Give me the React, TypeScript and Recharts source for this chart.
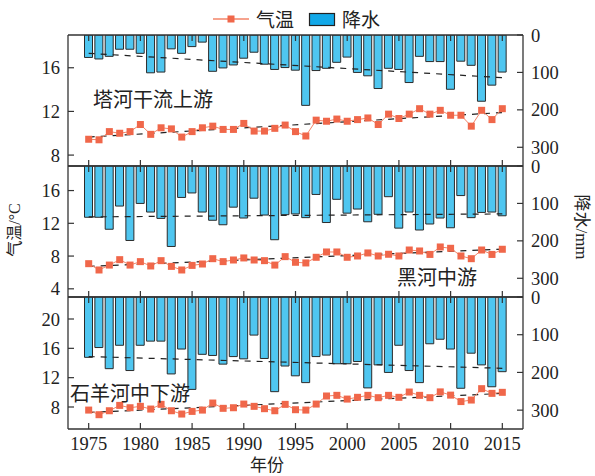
import { ComposedChart, Bar, Line, XAxis, YAxis, ReferenceLine } from 'recharts';

const years = [
  1975, 1976, 1977, 1978, 1979, 1980, 1981, 1982, 1983, 1984, 1985, 1986, 1987, 1988,
  1989, 1990, 1991, 1992, 1993, 1994, 1995, 1996, 1997, 1998, 1999, 2000, 2001, 2002,
  2003, 2004, 2005, 2006, 2007, 2008, 2009, 2010, 2011, 2012, 2013, 2014, 2015,
];
const yearTicks = [1975, 1980, 1985, 1990, 1995, 2000, 2005, 2010, 2015];
const trendYears = [1975, 2015];
const precipTicks = [0, 100, 200, 300];

// 塔河干流上游
const tempUpper = [
  9.45, 9.4, 10.15, 10.0, 10.15, 10.8, 9.9, 10.5, 10.4, 9.65, 10.15, 10.5, 10.65, 10.35,
  10.35, 10.9, 10.2, 10.2, 10.45, 10.75, 10.15, 9.75, 11.2, 11.1, 11.3, 11.1, 11.25, 11.4,
  10.8, 11.75, 11.35, 11.75, 12.25, 11.75, 12.1, 11.65, 11.65, 10.65, 12.1, 11.25, 12.25,
];
const precipUpper = [
  60, 64, 57, 38, 38, 49, 101, 99, 37, 49, 31, 19, 97, 88, 80, 62, 46, 78, 92, 87, 94,
  188, 95, 89, 73, 59, 100, 109, 143, 89, 92, 127, 57, 71, 71, 145, 70, 81, 177, 134, 99,
];
const tempTrendUpper = [9.65, 11.9];
const precipTrendUpper = [49, 114];

// 黑河中游
const tempMid = [
  7.07, 6.3, 6.9, 7.56, 6.9, 7.32, 6.79, 7.44, 6.74, 6.3, 6.86, 7.03, 7.68, 7.32, 7.52,
  7.77, 7.52, 7.44, 6.9, 7.93, 7.24, 7.16, 7.85, 8.5, 8.5, 7.85, 8.01, 8.38, 8.01, 8.22,
  8.01, 8.74, 8.62, 8.2, 9.11, 8.95, 8.01, 7.68, 8.74, 8.2, 8.83,
];
const precipMid = [
  137, 137, 169, 107, 199, 100, 123, 140, 215, 84, 72, 123, 145, 157, 110, 139, 86, 131,
  197, 130, 128, 138, 76, 151, 89, 126, 115, 149, 129, 82, 166, 123, 171, 155, 139, 165,
  79, 138, 124, 123, 133,
];
const tempTrendMid = [6.75, 8.85];
const precipTrendMid = [136, 128];

// 石羊河中下游
const tempLower = [
  7.58, 6.95, 7.49, 8.22, 7.9, 8.09, 7.72, 8.36, 7.49, 7.04, 7.4, 7.58, 8.54, 7.82, 7.9,
  8.4, 8.09, 7.77, 7.49, 8.36, 7.63, 7.58, 8.4, 9.5, 9.59, 9.08, 9.32, 9.59, 9.27, 9.59,
  9.32, 10.04, 9.59, 9.27, 10.06, 9.62, 8.74, 8.95, 10.5, 9.86, 10.0,
];
const precipLower = [
  160, 134, 190, 128, 195, 128, 117, 117, 204, 138, 245, 152, 155, 178, 158, 164, 101, 163,
  251, 183, 209, 227, 158, 154, 177, 177, 171, 241, 180, 200, 128, 195, 227, 124, 112, 138,
  242, 149, 180, 238, 198,
];
const tempTrendLower = [7.25, 9.85];
const precipTrendLower = [158, 189];

const FONT = "'Liberation Serif', 'Noto Sans CJK SC', serif";
const CJK = "'Noto Sans CJK SC', sans-serif";
const AXIS = '#333';
const TEMP_COLOR = '#f0674a';
const BAR_FILL = '#4fc6f0';

const tickStyle = { fill: '#222', fontSize: 18.5, fontFamily: FONT };
const blank = () => '';

function SquareDot(props: any) {
  const { cx, cy, index } = props;
  if (cx == null || cy == null) return <g key={index} />;
  return <rect key={index} x={cx - 3.5} y={cy - 3.5} width={7} height={7} fill={TEMP_COLOR} />;
}

interface PanelProps {
  temp: number[];
  precip: number[];
  tempDomain: number[];
  tempTicks: number[];
  tempTrend: number[];
  precipTrend: number[];
  top: number;
  plotHeight: number;
  showYears?: boolean;
}

function Panel({ temp, precip, tempDomain, tempTicks, tempTrend, precipTrend, top, plotHeight, showYears }: PanelProps) {
  const data = years.map((year, i) => ({ year, temp: temp[i], precip: precip[i] }));
  const bottomH = showYears ? 40 : 10;
  const axisCommon = {
    type: 'number' as const,
    dataKey: 'year',
    domain: [1973, 2017],
    allowDataOverflow: true,
    ticks: yearTicks,
    interval: 0 as const,
    tickSize: -6,
    tickMargin: 14,
    axisLine: { stroke: AXIS, strokeWidth: 1.3 },
    tickLine: { stroke: AXIS, strokeWidth: 1.2 },
  };
  return (
    <div style={{ position: 'absolute', left: 0, top: top - 10 }}>
      <ComposedChart
        width={595}
        height={plotHeight + 10 + bottomH}
        data={data}
        margin={{ top: 0, right: 0, bottom: 0, left: 0 }}
      >
        <XAxis
          {...axisCommon}
          xAxisId="b"
          height={bottomH}
          tick={tickStyle}
          tickFormatter={showYears ? undefined : blank}
        />
        <XAxis {...axisCommon} xAxisId="t" orientation="top" height={10} tick={tickStyle} tickFormatter={blank} />
        <YAxis
          yAxisId="temp"
          type="number"
          domain={tempDomain}
          allowDataOverflow
          ticks={tempTicks}
          interval={0}
          width={68}
          tickSize={-6}
          tickMargin={14}
          axisLine={{ stroke: AXIS, strokeWidth: 1.3 }}
          tickLine={{ stroke: AXIS, strokeWidth: 1.2 }}
          tick={tickStyle}
        />
        <YAxis
          yAxisId="pr"
          orientation="right"
          type="number"
          domain={[0, 350]}
          reversed
          allowDataOverflow
          ticks={precipTicks}
          interval={0}
          width={72}
          tickSize={-6}
          tickMargin={14}
          axisLine={{ stroke: AXIS, strokeWidth: 1.3 }}
          tickLine={{ stroke: AXIS, strokeWidth: 1.2 }}
          tick={tickStyle}
        />
        <Bar
          xAxisId="b"
          yAxisId="pr"
          dataKey="precip"
          barSize={8}
          fill={BAR_FILL}
          stroke="#2b2b2b"
          strokeWidth={1}
          isAnimationActive={false}
        />
        <ReferenceLine
          xAxisId="b"
          yAxisId="pr"
          segment={[
            { x: trendYears[0], y: precipTrend[0] },
            { x: trendYears[1], y: precipTrend[1] },
          ]}
          stroke="#222"
          strokeWidth={1.2}
          strokeDasharray="6 6"
        />
        <ReferenceLine
          xAxisId="b"
          yAxisId="temp"
          segment={[
            { x: trendYears[0], y: tempTrend[0] },
            { x: trendYears[1], y: tempTrend[1] },
          ]}
          stroke="#222"
          strokeWidth={1.2}
          strokeDasharray="6 6"
        />
        <Line
          xAxisId="b"
          yAxisId="temp"
          type="linear"
          dataKey="temp"
          stroke="#f38468"
          strokeWidth={1}
          dot={SquareDot}
          activeDot={false}
          isAnimationActive={false}
        />
      </ComposedChart>
    </div>
  );
}

const label = (text: string, left: number, top: number) => (
  <div style={{ position: 'absolute', left, top, fontSize: 20, lineHeight: '20px', fontFamily: CJK, color: '#222', whiteSpace: 'nowrap' }}>
    {text}
  </div>
);

export default function App() {
  return (
    <div style={{ position: 'absolute', left: 0, top: 0, width: 595, height: 476, background: '#fff', overflow: 'hidden', fontFamily: FONT }}>
      <Panel
        temp={tempUpper}
        precip={precipUpper}
        tempDomain={[7, 19]}
        tempTicks={[8, 12, 16]}
        tempTrend={tempTrendUpper}
        precipTrend={precipTrendUpper}
        top={35}
        plotHeight={131}
      />
      <Panel
        temp={tempMid}
        precip={precipMid}
        tempDomain={[3, 19]}
        tempTicks={[4, 8, 12, 16]}
        tempTrend={tempTrendMid}
        precipTrend={precipTrendMid}
        top={166}
        plotHeight={131}
      />
      <Panel
        temp={tempLower}
        precip={precipLower}
        tempDomain={[5, 23]}
        tempTicks={[8, 12, 16, 20]}
        tempTrend={tempTrendLower}
        precipTrend={precipTrendLower}
        top={297}
        plotHeight={132}
        showYears
      />

      {label('塔河干流上游', 93, 89)}
      {label('黑河中游', 397, 267)}
      {label('石羊河中下游', 70, 383)}

      {/* legend */}
      <svg width={595} height={32} style={{ position: 'absolute', left: 0, top: 0 }}>
        <line x1={213} x2={249} y1={19} y2={19} stroke="#f38468" strokeWidth={1.5} />
        <rect x={227.5} y={15.5} width={7} height={7} fill={TEMP_COLOR} />
        <rect x={309.5} y={13.5} width={25} height={12} fill="#12a8e8" stroke="#222" strokeWidth={1.2} />
      </svg>
      <div style={{ position: 'absolute', left: 256, top: 9, fontSize: 19, lineHeight: '20px', fontFamily: CJK, color: '#222' }}>气温</div>
      <div style={{ position: 'absolute', left: 342, top: 9, fontSize: 19, lineHeight: '20px', fontFamily: CJK, color: '#222' }}>降水</div>

      {/* axis titles */}
      <div style={{ position: 'absolute', left: 15, top: 230, transform: 'translate(-50%, -50%) rotate(-90deg)', fontSize: 16, lineHeight: '16px', fontFamily: FONT, color: '#222', whiteSpace: 'nowrap' }}>
        气温/°C
      </div>
      <div style={{ position: 'absolute', left: 581, top: 227, transform: 'translate(-50%, -50%) rotate(90deg)', fontSize: 17, lineHeight: '17px', fontFamily: FONT, color: '#222', whiteSpace: 'nowrap' }}>
        降水/mm
      </div>
      <div style={{ position: 'absolute', left: 250, top: 455, fontSize: 17, lineHeight: '17px', fontFamily: CJK, color: '#222', whiteSpace: 'nowrap' }}>
        年份
      </div>
    </div>
  );
}
